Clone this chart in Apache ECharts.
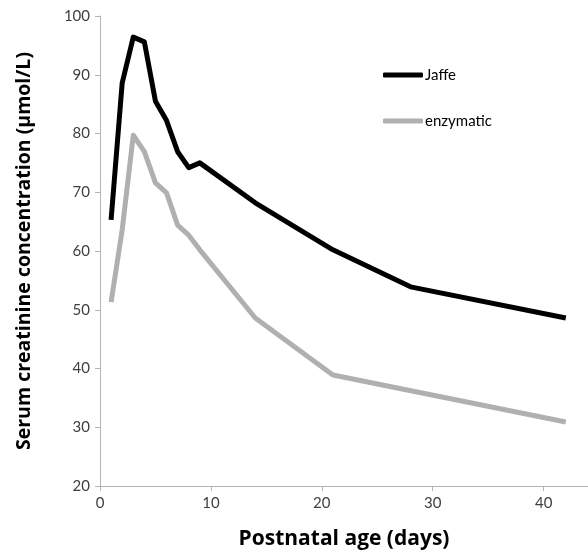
<!DOCTYPE html>
<html>
<head>
<meta charset="utf-8">
<script src="https://cdn.jsdelivr.net/npm/echarts@6/dist/echarts.min.js"></script>
<style>html,body{margin:0;padding:0;background:#fff;}#c{width:588px;height:558px;}</style>
</head>
<body>
<div id="c"></div>
<script>
var jaffeDays = [1, 2, 3, 4, 5, 6, 7, 8, 9, 14, 21, 28, 42];
var jaffeValues = [65.3, 88.6, 96.4, 95.6, 85.5, 82.2, 76.9, 74.2, 75.0, 68.2, 60.2, 53.9, 48.6];
var enzDays = [1, 2, 3, 4, 5, 6, 7, 8, 9, 14, 21, 42];
var enzValues = [51.3, 63.6, 79.7, 76.9, 71.6, 69.9, 64.4, 62.7, 60.2, 48.6, 38.9, 30.9];
var seriesNames = ['Jaffe', 'enzymatic'];
var xTitle = 'Postnatal age (days)';
var yTitle = 'Serum creatinine concentration (\u00b5mol/L)';

function pairs(xs, ys) { return xs.map(function (x, i) { return [x, ys[i]]; }); }

var chart = echarts.init(document.getElementById('c'), null, { renderer: 'canvas' });
var font = 'Lato, "Open Sans", sans-serif';
var titleFont = '"Open Sans", Lato, sans-serif';
chart.setOption({
  animation: false,
  textStyle: { fontFamily: font },
  grid: { left: 100, right: 0, top: 16, bottom: 72 },
  legend: {
    orient: 'vertical',
    left: 378, top: 62,
    itemWidth: 40, itemHeight: 5, itemGap: 30,
    icon: 'roundRect',
    textStyle: { fontFamily: font, fontSize: 15, color: '#000', lineHeight: 16, padding: [0, 0, 0, -3] },
    data: seriesNames
  },
  xAxis: {
    type: 'value', min: 0, max: 44, interval: 10,
    name: xTitle, nameLocation: 'middle', nameGap: 43,
    nameTextStyle: { fontFamily: titleFont, fontSize: 21, fontWeight: 'bold', color: '#000' },
    axisLine: { show: true, lineStyle: { color: '#b3b3b3', width: 1 } },
    axisTick: { show: true, length: 5, lineStyle: { color: '#b3b3b3' } },
    axisLabel: { fontSize: 15, color: '#404040', margin: 10, showMaxLabel: false },
    splitLine: { show: false }
  },
  yAxis: {
    type: 'value', min: 20, max: 100, interval: 10,
    name: yTitle, nameLocation: 'middle', nameGap: 66,
    nameTextStyle: { fontFamily: titleFont, fontSize: 19.5, fontWeight: 'bold', color: '#000' },
    axisLine: { show: true, lineStyle: { color: '#b3b3b3', width: 1 } },
    axisTick: { show: true, length: 5, lineStyle: { color: '#b3b3b3' } },
    axisLabel: { fontSize: 15, color: '#404040', margin: 10 },
    splitLine: { show: false }
  },
  series: [
    { name: seriesNames[0], type: 'line', data: pairs(jaffeDays, jaffeValues), showSymbol: false, symbol: 'none',
      lineStyle: { color: '#000', width: 5, join: 'round' }, itemStyle: { color: '#000' } },
    { name: seriesNames[1], type: 'line', data: pairs(enzDays, enzValues), showSymbol: false, symbol: 'none',
      lineStyle: { color: '#b0b0b0', width: 5, join: 'round' }, itemStyle: { color: '#b0b0b0' } }
  ]
});
</script>
</body>
</html>
